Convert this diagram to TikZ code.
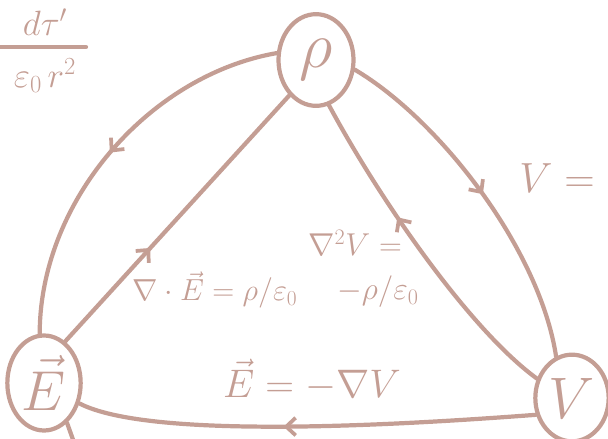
\RequirePackage{fix-cm}
\documentclass[tikz,border=0pt]{standalone}
\usepackage{amsmath}
\usepackage{amssymb}
\usepackage{tikz}
\usetikzlibrary{shapes.geometric, arrows.meta, decorations.markings}
\definecolor{ink}{RGB}{196,158,148}

\begin{document}
\begin{tikzpicture}[x=0.03cm, y=-0.03cm, color=ink, line width=3.6pt, line cap=round,
    blob/.style={ellipse, draw, inner sep=0pt},
    midtip/.style={postaction={decorate}, decoration={markings,
        mark=at position #1 with {\arrow{Straight Barb[length=8pt, width=15pt, line width=3.2pt]}}}}]

    \useasboundingbox (0,0) rectangle (608,438);

    % Charge, field and potential
    \node[blob, minimum width=2.25cm, minimum height=2.75cm] (rho) at (316,60)
        {\fontsize{56}{60}\selectfont$\rho$};
    \node[blob, minimum width=2.2cm, minimum height=2.85cm] (E) at (44,383)
        {\fontsize{48}{52}\selectfont$\vec{E}$};
    \node[blob, minimum width=2.2cm, minimum height=2.6cm] (V) at (572,398)
        {\fontsize{50}{54}\selectfont$V$};

    % Outer paths
    \draw[midtip=0.5] (rho.170) .. controls (150,75) and (40,200) .. (E.95);
    \draw[midtip=0.5] (rho.346) .. controls (440,120) and (540,250) .. (V.111);

    % Inner paths
    \draw[midtip=0.38] (E.63) -- (rho.233);
    \draw[midtip=0.62] (V.151) .. controls (470,330) and (380,200) .. (rho.286);
    \draw[midtip=0.55] (V.205) .. controls (400,425) and (150,440) .. (E.330);

    % Leaving the page
    \coordinate (Eout) at (76,448);
    \draw (E.300) -- (Eout);

    % Relations
    \node (gauss) at (215,290) {\fontsize{26}{30}\selectfont$\nabla\cdot\vec{E}=\rho/\varepsilon_0$};
    \node (poisson) at (355,243) {\fontsize{27}{30}\selectfont$\nabla^2V=$};
    \node (poissonrhs) at (378,292) {\fontsize{27}{30}\selectfont$-\rho/\varepsilon_0$};
    \node (grad) at (312,380) {\fontsize{34}{38}\selectfont$\vec{E} = -\nabla V$};
    \node (pot) at (557,178) {\fontsize{36}{40}\selectfont$V =$};

    % Cut-off fraction
    \node (dtau) at (45,22) {\fontsize{30}{34}\selectfont$d\tau'$};
    \node (epsr) at (45,76) {\fontsize{30}{34}\selectfont$\varepsilon_0\, r^2$};
    \draw (-5,47) -- (86,47);

\end{tikzpicture}
\end{document}
